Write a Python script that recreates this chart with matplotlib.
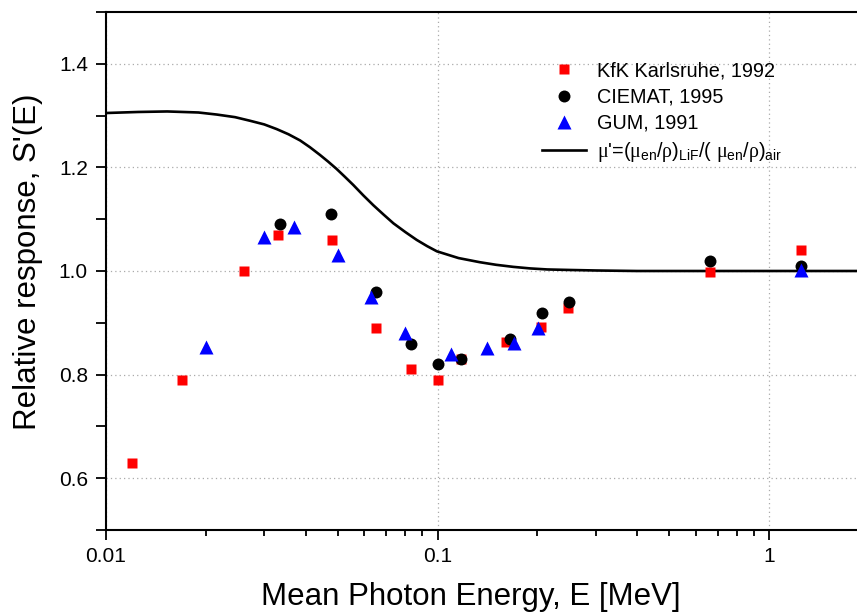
import matplotlib
matplotlib.use("Agg")
import matplotlib.pyplot as plt
from matplotlib.ticker import MultipleLocator, LogLocator, FixedLocator, FixedFormatter

plt.rcParams["font.family"] = ["Liberation Sans", "DejaVu Sans"]
plt.rcParams["mathtext.fontset"] = "custom"
plt.rcParams["mathtext.rm"] = "Liberation Sans"
plt.rcParams["mathtext.it"] = "Liberation Serif"

# KfK Karlsruhe, 1992
kfk_e = [0.012, 0.017, 0.026, 0.033, 0.048, 0.065, 0.083, 0.100, 0.118,
         0.161, 0.205, 0.248, 0.664, 1.25]
kfk_s = [0.63, 0.79, 1.00, 1.07, 1.06, 0.89, 0.81, 0.79, 0.83,
         0.862, 0.891, 0.929, 0.998, 1.041]

# CIEMAT, 1995
ciemat_e = [0.0335, 0.0477, 0.065, 0.083, 0.100, 0.118, 0.165, 0.207,
            0.249, 0.664, 1.25]
ciemat_s = [1.091, 1.110, 0.960, 0.860, 0.821, 0.831, 0.869, 0.919,
            0.940, 1.020, 1.010]

# GUM, 1991
gum_e = [0.020, 0.030, 0.037, 0.050, 0.063, 0.080, 0.110, 0.141, 0.170,
         0.201, 1.25]
gum_s = [0.853, 1.065, 1.085, 1.030, 0.950, 0.880, 0.840, 0.851, 0.861,
         0.890, 1.002]

# mu' = (mu_en/rho)_LiF / (mu_en/rho)_air
curve_e = [0.010, 0.0125, 0.0153, 0.019, 0.0216, 0.0245, 0.0272, 0.030,
           0.0327, 0.0355, 0.0385, 0.0412, 0.0442, 0.0468, 0.0496, 0.0525,
           0.0557, 0.0597, 0.064, 0.0687, 0.0736, 0.080, 0.0865, 0.093,
           0.0995, 0.1156, 0.134, 0.150, 0.169, 0.190, 0.214, 0.250, 0.30,
           0.40, 0.50, 1.00, 1.90]
curve_s = [1.305, 1.307, 1.308, 1.306, 1.302, 1.297, 1.290, 1.283,
           1.274, 1.264, 1.252, 1.239, 1.224, 1.211, 1.197, 1.182,
           1.166, 1.146, 1.127, 1.109, 1.092, 1.075, 1.060, 1.048,
           1.038, 1.025, 1.017, 1.012, 1.008, 1.005, 1.003, 1.002, 1.001,
           1.000, 1.000, 1.000, 1.000]


def main():
    fig = plt.figure(figsize=(8.57, 6.13), dpi=100)
    ax = fig.add_axes([106 / 857, 1 - 530 / 613, 1 - 106 / 857, 518 / 613])

    ax.plot(kfk_e, kfk_s, "s", color="#ff0000", ms=7.8, mec="none",
            label="KfK Karlsruhe, 1992", zorder=3)
    ax.plot(ciemat_e, ciemat_s, "o", color="black", ms=8.6, mec="none",
            label="CIEMAT, 1995", zorder=4)
    ax.plot(gum_e, gum_s, "^", color="#0000ff", ms=9.5, mec="none",
            label="GUM, 1991", zorder=5)
    ax.plot(curve_e, curve_s, "-", color="black", lw=1.9,
            label=r"$\mu$'=($\mu_{\rm en}$/$\rho$)$_{\rm LiF}$/( $\mu_{\rm en}$/$\rho$)$_{\rm air}$",
            zorder=2)

    ax.set_xscale("log")
    ax.set_xlim(0.01, 1.84)
    ax.set_ylim(0.5, 1.5)

    ax.xaxis.set_major_locator(FixedLocator([0.01, 0.1, 1]))
    ax.xaxis.set_major_formatter(FixedFormatter(["0.01", "0.1", "1"]))
    ax.xaxis.set_minor_locator(LogLocator(base=10, subs=range(2, 10)))
    ax.xaxis.set_minor_formatter(FixedFormatter([]))
    ax.yaxis.set_major_locator(MultipleLocator(0.2))
    ax.yaxis.set_minor_locator(MultipleLocator(0.1))
    ax.yaxis.set_major_formatter(plt.FuncFormatter(lambda v, p: f"{v:.1f}"))

    ax.tick_params(axis="both", which="major", direction="out", length=7.5,
                   width=1.3, labelsize=15)
    ax.tick_params(axis="x", which="major", pad=4.5)
    ax.tick_params(axis="y", which="major", pad=5.5)
    ax.tick_params(axis="x", which="minor", direction="out", length=4,
                   width=1.3)
    ax.tick_params(axis="y", which="minor", direction="out", length=7.5,
                   width=1.3)
    ax.tick_params(top=False, right=False, which="both")

    for side in ["left", "bottom", "top"]:
        ax.spines[side].set_linewidth(1.5)
    ax.spines["right"].set_visible(False)

    ax.grid(True, which="major", linestyle=(0, (1, 2.5)), color="#aaaaaa",
            linewidth=0.9)

    ax.set_xlabel("Mean Photon Energy, E [MeV]", fontsize=22.5)
    ax.set_ylabel("Relative response, S'(E)", fontsize=22.5)
    ax.xaxis.set_label_coords(0.486, -0.1, transform=ax.transAxes)
    ax.yaxis.set_label_coords(-0.084, 0.517, transform=ax.transAxes)

    ax.legend(loc="upper left", bbox_to_anchor=(0.5806, 0.905), frameon=False,
              fontsize=14.3, handlelength=2.2, handletextpad=0.55,
              labelspacing=0.37, borderaxespad=0, borderpad=0)

    fig.savefig("out.png", dpi=100)


if __name__ == "__main__":
    main()
